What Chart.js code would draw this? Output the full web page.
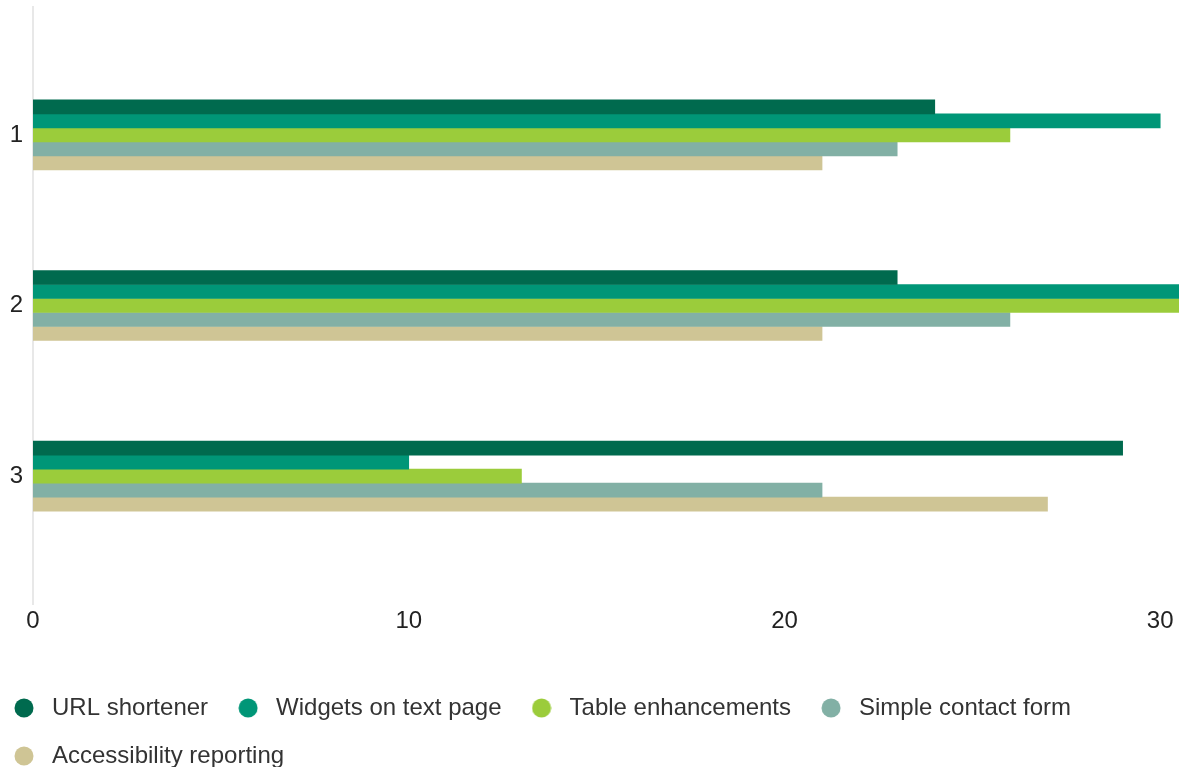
<!DOCTYPE html>
<html>
<head>
<meta charset="utf-8">
<script src="https://cdn.jsdelivr.net/npm/chart.js@4/dist/chart.umd.min.js"></script>
<style>
  html, body { margin: 0; padding: 0; background: #fff; }
  #wrap { width: 1179px; height: 767px; }
</style>
</head>
<body>
<div id="wrap"><canvas id="projectChart"></canvas></div>
<script>
// rows on the chart
const categories = ['1', '2', '3'];

// one series per project
const seriesNames = ['URL shortener', 'Widgets on text page', 'Table enhancements', 'Simple contact form', 'Accessibility reporting'];
const urlShortener = [24, 23, 29];
const widgetsTextPage = [30, 31, 10];
const tableEnhancements = [26, 31, 13];
const simpleContactForm = [23, 26, 21];
const accessibilityReporting = [21, 21, 27];

const xTicks = [0, 10, 20, 30];

const colors = ['#006a4e', '#009677', '#9bcc3b', '#82b0a5', '#cfc595'];
const allSeries = [urlShortener, widgetsTextPage, tableEnhancements, simpleContactForm, accessibilityReporting];

const font = "'Liberation Sans', Arial, sans-serif";

// little round marker for the legend
function dot(color) {
    const c = document.createElement('canvas');
    c.width = 20;
    c.height = 20;
    const g = c.getContext('2d');
    g.fillStyle = color;
    g.beginPath();
    g.arc(10, 10, 9.5, 0, Math.PI * 2);
    g.fill();
    return c;
}

new Chart(document.getElementById('projectChart'), {
    type: 'bar',
    data: {
        datasets: allSeries.map((values, s) => ({
            label: seriesNames[s],
            data: values.map((v, i) => ({ x: v, y: i + 1 })),
            backgroundColor: colors[s],
            borderWidth: 0,
            barThickness: 14
        }))
    },
    options: {
        indexAxis: 'y',
        responsive: true,
        maintainAspectRatio: false,
        animation: false,
        layout: { padding: { top: 7, right: 0, left: -16, bottom: -11 } },
        scales: {
            x: {
                type: 'linear',
                min: 0,
                max: 30.5,
                grid: { display: false, drawTicks: false },
                border: { display: false },
                afterBuildTicks: (scale) => { scale.ticks = xTicks.map(v => ({ value: v })); },
                afterFit: (scale) => {
                    scale.height = 68;
                    scale.paddingLeft = 0;
                    scale.paddingRight = 0;
                },
                ticks: {
                    padding: 3,
                    color: '#222',
                    font: { family: font, size: 24 }
                }
            },
            y: {
                type: 'linear',
                offset: false,
                reverse: true,
                min: 0.25,
                max: 3.75,
                grid: { display: false, drawTicks: false, offset: false },
                border: { display: true, color: '#e8e8e8', width: 2 },
                afterBuildTicks: (scale) => { scale.ticks = categories.map((c, i) => ({ value: i + 1 })); },
                afterFit: (scale) => {
                    scale.width = 49;
                    scale.paddingTop = 0;
                    scale.paddingBottom = 0;
                },
                ticks: {
                    padding: 10,
                    color: '#222',
                    font: { family: font, size: 24 },
                    callback: (v) => categories[v - 1]
                }
            }
        },
        plugins: {
            tooltip: { enabled: false },
            legend: {
                position: 'bottom',
                align: 'start',
                labels: {
                    usePointStyle: true,
                    pointStyleWidth: 32,
                    padding: 24,
                    color: '#333',
                    font: { family: font, size: 24 },
                    generateLabels: (chart) => Chart.defaults.plugins.legend.labels.generateLabels(chart)
                        .map((item, i) => Object.assign(item, { pointStyle: dot(colors[i]) }))
                }
            }
        }
    }
});
</script>
</body>
</html>
